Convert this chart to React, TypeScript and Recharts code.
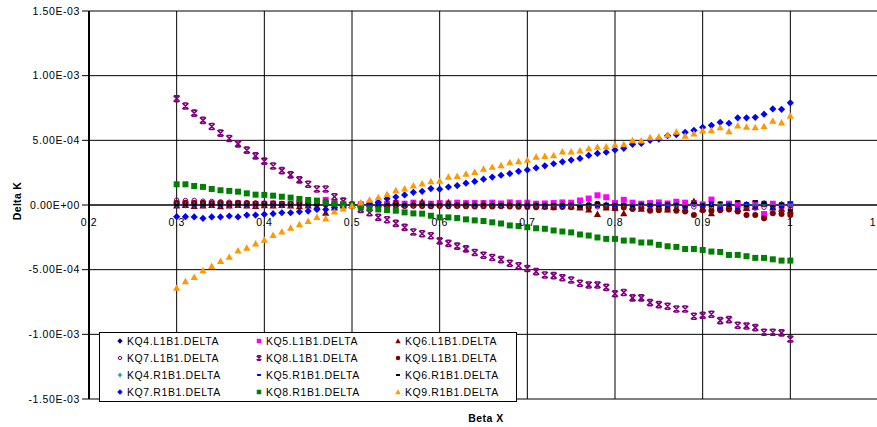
import { ScatterChart, Scatter, XAxis, YAxis, CartesianGrid, ReferenceLine, Legend } from 'recharts'

// Beta X sample points
const betaX = [
  0.3, 0.31, 0.32, 0.33, 0.34, 0.35, 0.36, 0.37, 0.38, 0.39,
  0.4, 0.41, 0.42, 0.43, 0.44, 0.45, 0.46, 0.47, 0.48, 0.49,
  0.5, 0.51, 0.52, 0.53, 0.54, 0.55, 0.56, 0.57, 0.58, 0.59,
  0.6, 0.61, 0.62, 0.63, 0.64, 0.65, 0.66, 0.67, 0.68, 0.69,
  0.7, 0.71, 0.72, 0.73, 0.74, 0.75, 0.76, 0.77, 0.78, 0.79,
  0.8, 0.81, 0.82, 0.83, 0.84, 0.85, 0.86, 0.87, 0.88, 0.89,
  0.9, 0.91, 0.92, 0.93, 0.94, 0.95, 0.96, 0.97, 0.98, 0.99,
  1.0,
]

// Delta K values, in units of 1e-4
const kq4L = [
  0.02, 0.01, 0.03, 0, 0.02, 0.01, 0.03, 0.02, 0, 0.01,
  0.02, 0, 0.01, 0.02, 0, 0.01, 0.03, 0.02, 0, 0.01,
  0, 0.01, -0.02, 0, 0.01, -0.01, 0.02, 0, -0.02, 0.01,
  0, -0.01, 0.02, 0, -0.02, 0.01, 0, -0.01, 0.02, 0,
  -0.02, 0.01, 0, -0.03, 0.02, 0, -0.05, 0.03, 0, -0.02,
  0.03, -0.04, 0.02, 0, -0.05, 0.03, -0.02, 0.05, -0.03, 0.08,
  -0.04, 0.02, -0.06, 0.05, -0.03, 0.04, -0.05, 0.08, -0.02, 0.03,
  -0.04,
]
const kq5L = [
  0.12, 0.1, 0.14, 0.08, 0.12, 0.1, 0.09, 0.13, 0.1, 0.08,
  0.1, 0.12, 0.08, 0.1, 0.14, 0.12, 0.2, 0.4, 0.15, 0.05,
  0, 0.05, 0.1, 0.12, 0.08, 0.15, 0.1, 0.18, 0.12, 0.1,
  0.15, 0.12, 0.18, 0.14, 0.16, 0.15, 0.18, 0.12, 0.2, 0.15,
  0.18, 0.1, 0.12, 0.15, 0.2, 0.18, 0.35, 0.5, 0.75, 0.6,
  0.15, 0.4, 0.18, 0.1, 0.15, 0.2, 0.12, 0.25, 0.18, 0.15,
  0.05, 0.42, -0.15, 0.1, 0.05, -0.2, 0.12, -0.7, 0.1, -0.05,
  0.08,
]
const kq6L = [
  -0.05, 0, -0.08, -0.05, 0, -0.1, -0.05, 0, -0.05, -0.08,
  -0.02, -0.05, 0, -0.05, -0.1, -0.05, -0.1, -0.6, -0.2, -0.05,
  0, 0.05, 0.1, 0.05, 0.08, 0.3, 0.05, 0.1, 0.25, 0.05,
  0.1, 0.2, 0.05, 0.1, 0.05, 0.12, 0.05, 0, 0.08, 0.05,
  0.1, 0.05, -0.1, -0.15, 0.05, -0.1, -0.2, -0.35, -0.7, -0.2,
  -0.25, -0.64, -0.15, -0.3, -0.2, -0.1, -0.35, -0.25, -0.28, 0.3,
  -0.3, -0.64, -0.2, -0.1, -0.3, -0.25, -0.15, 0.08, -0.2, -0.3,
  -0.44,
]
const kq7L = [
  0.38, 0.35, 0.36, 0.3, 0.28, 0.25, 0.22, 0.2, 0.18, 0.15,
  0.14, 0.12, 0.1, 0.1, 0.08, 0.06, 0.05, 0.3, 0.05, 0.02,
  0, -0.02, -0.03, -0.05, -0.04, -0.06, -0.05, -0.07, -0.06, -0.08,
  -0.06, -0.08, -0.07, -0.1, -0.08, -0.09, -0.1, -0.08, -0.1, -0.09,
  -0.1, -0.12, -0.1, -0.15, -0.12, -0.1, -0.2, -0.12, -0.15, -0.1,
  -0.12, -0.15, -0.1, -0.18, -0.12, -0.2, -0.15, -0.12, -0.2, -0.15,
  -0.18, -0.2, -0.15, -0.22, -0.18, -0.2, -0.25, -0.18, -0.2, -0.15,
  -0.22,
]
const kq8L = [
  8.22, 7.65, 7.1, 6.54, 6.07, 5.56, 5.14, 4.73, 4.24, 3.8,
  3.39, 3.02, 2.66, 2.33, 1.94, 1.6, 1.24, 1.24, 0.64, 0.3,
  0, -0.34, -0.6, -0.96, -1.14, -1.42, -1.73, -2.09, -2.22, -2.38,
  -2.77, -2.97, -3.18, -3.39, -3.67, -3.88, -4.06, -4.22, -4.5, -4.7,
  -4.91, -5.15, -5.41, -5.46, -5.62, -5.8, -6.05, -6.18, -6.18, -6.37,
  -6.86, -6.77, -7.18, -7.18, -7.55, -7.7, -7.83, -8.04, -8.04, -8.6,
  -8.53, -8.45, -8.94, -8.86, -9.3, -9.35, -9.48, -9.84, -9.84, -9.89,
  -10.36,
]
const kq9L = [
  0.15, 0.18, 0.15, 0.17, 0.14, 0.16, 0.12, 0.15, 0.13, 0.12,
  0.1, 0.12, 0.1, 0.08, 0.1, 0.07, 0.06, 0.05, 0.03, 0.02,
  0, -0.03, -0.05, -0.04, -0.06, -0.05, -0.08, -0.06, -0.08, -0.1,
  -0.08, -0.1, -0.08, -0.1, -0.12, -0.1, -0.12, -0.1, -0.12, -0.14,
  -0.16, -0.18, -0.15, -0.2, -0.15, -0.18, -0.15, -0.2, 0.1, -0.18,
  -0.26, -0.2, -0.3, -0.25, -0.44, -0.4, -0.35, -0.44, -0.5, -0.77,
  -0.4, -0.45, -0.4, -0.35, -0.5, -0.77, -0.77, -1.03, -0.64, -0.7,
  -0.77,
]
const kq4R = [
  0, 0.02, -0.01, 0.01, 0, 0.02, -0.01, 0, 0.01, 0,
  0.01, 0, -0.01, 0.02, 0, 0.01, -0.01, 0, 0.02, 0,
  0, -0.02, 0, 0.01, -0.01, 0.02, 0, -0.01, 0.01, 0,
  0.01, 0, -0.02, 0.01, 0, -0.01, 0.02, 0, -0.01, 0.01,
  0, 0.02, -0.02, 0.03, 0, -0.03, 0.02, 0.04, -0.02, 0.03,
  0, 0.05, -0.03, 0.04, 0.02, -0.04, 0.06, 0.03, -0.05, 0.1,
  0.02, -0.05, 0.06, 0.03, -0.04, 0.08, 0.02, 0.06, -0.03, 0.05,
  0.08,
]
const kq5R = [
  -0.02, 0, -0.03, -0.01, 0, -0.02, -0.01, 0, -0.03, -0.01,
  0, -0.02, -0.01, 0, -0.02, -0.03, 0, -0.01, -0.02, 0,
  0, 0.02, 0, -0.02, 0.01, 0, -0.03, 0.02, 0, -0.02,
  0.02, -0.03, 0, 0.03, -0.02, 0, 0.04, -0.03, 0.02, 0,
  -0.05, 0.03, -0.04, 0.05, -0.08, 0.04, -0.1, 0.06, -0.12, 0.08,
  -0.1, 0.05, -0.12, 0.1, -0.08, 0.12, -0.15, 0.1, -0.2, 0.15,
  -0.12, 0.2, -0.25, 0.1, -0.3, 0.15, -0.2, 0.25, -0.3, -0.15,
  0.2,
]
const kq6R = [
  0, 0.02, 0.01, 0, 0.02, 0.01, 0, 0.03, 0.01, 0.02,
  0.03, 0.01, 0.02, 0, 0.02, 0.03, 0.01, 0, 0.02, 0.01,
  0, 0.03, 0.05, 0.02, 0.04, 0.06, 0.03, 0.05, 0.04, 0.02,
  0.05, 0.03, 0.06, 0.04, 0.02, 0.05, 0.03, 0.06, 0.04, 0.05,
  0.03, 0.06, 0.04, 0.08, 0.05, 0.1, -0.1, 0.08, 0.15, 0.1,
  0.08, 0.05, -0.05, 0.1, 0.08, -0.08, 0.12, 0.06, -0.1, 0.15,
  0.05, -0.1, 0.2, -0.05, 0.3, -0.08, 0.3, 0.15, -0.1, 0.12,
  -0.4,
]
const kq7R = [
  -0.9, -0.9, -0.92, -1.03, -0.92, -0.92, -0.85, -0.92, -0.78, -0.78,
  -0.72, -0.67, -0.6, -0.6, -0.52, -0.47, -0.34, -0.34, -0.21, -0.13,
  -0.03, 0, 0.08, 0.2, 0.49, 0.62, 0.78, 0.98, 1.06, 1.27,
  1.22, 1.39, 1.5, 1.69, 1.82, 2.0, 2.16, 2.3, 2.43, 2.6,
  2.71, 2.87, 3.03, 3.19, 3.34, 3.47, 3.6, 3.83, 3.99, 4.08,
  4.26, 4.38, 4.69, 4.76, 5.0, 5.1, 5.36, 5.44, 5.62, 5.77,
  6.01, 6.16, 6.39, 6.32, 6.74, 6.74, 6.78, 7.02, 7.43, 7.4,
  7.9,
]
const kq8R = [
  1.6, 1.6, 1.47, 1.4, 1.24, 1.14, 1.09, 1.03, 0.9, 0.8,
  0.78, 0.72, 0.64, 0.57, 0.47, 0.39, 0.34, 0.18, 0.1, 0.06,
  -0.02, -0.18, -0.26, -0.34, -0.39, -0.44, -0.57, -0.65, -0.67, -0.83,
  -0.96, -0.96, -1.01, -1.11, -1.19, -1.24, -1.34, -1.43, -1.58, -1.63,
  -1.72, -1.8, -1.84, -1.97, -2.05, -2.12, -2.28, -2.36, -2.51, -2.62,
  -2.62, -2.75, -2.75, -2.9, -2.9, -3.08, -3.19, -3.24, -3.4, -3.4,
  -3.48, -3.6, -3.63, -3.86, -3.86, -3.96, -4.09, -4.09, -4.2, -4.3,
  -4.3,
]
const kq9R = [
  -6.4, -5.9, -5.57, -5.05, -4.72, -4.33, -4.02, -3.53, -3.32, -2.98,
  -2.7, -2.33, -2.05, -1.76, -1.5, -1.24, -0.93, -1.06, -0.52, -0.28,
  -0.06, 0.18, 0.39, 0.6, 0.85, 1.14, 1.27, 1.5, 1.66, 1.82,
  1.87, 2.17, 2.24, 2.4, 2.55, 2.8, 2.94, 3.06, 3.3, 3.38,
  3.48, 3.72, 3.78, 3.83, 4.12, 4.12, 4.2, 4.37, 4.5, 4.52,
  4.65, 4.68, 5.0, 4.97, 5.23, 5.26, 5.42, 5.65, 5.34, 5.52,
  5.75, 5.77, 6.01, 5.7, 6.14, 6.04, 6.01, 6.09, 6.5, 6.37,
  6.89,
]

const xTicks = [0.2, 0.3, 0.4, 0.5, 0.6, 0.7, 0.8, 0.9, 1.0, 1.1]
const xTickLabels = ['0.2', '0.3', '0.4', '0.5', '0.6', '0.7', '0.8', '0.9', '1', '1.1']
const yTicks = [-15, -10, -5, 0, 5, 10, 15]
const yTickLabels = ['-1.50E-03', '-1.00E-03', '-5.00E-04', '0.00E+00', '5.00E-04', '1.00E-03', '1.50E-03']

type Kind = 'diamond' | 'square' | 'triangle' | 'ring' | 'star' | 'circle' | 'plus' | 'dash'

const series: { name: string; values: number[]; color: string; kind: Kind }[] = [
  { name: 'KQ4.L1B1.DELTA', values: kq4L, color: '#000080', kind: 'diamond' },
  { name: 'KQ5.L1B1.DELTA', values: kq5L, color: '#FF00FF', kind: 'square' },
  { name: 'KQ6.L1B1.DELTA', values: kq6L, color: '#800000', kind: 'triangle' },
  { name: 'KQ7.L1B1.DELTA', values: kq7L, color: '#800080', kind: 'ring' },
  { name: 'KQ8.L1B1.DELTA', values: kq8L, color: '#800080', kind: 'star' },
  { name: 'KQ9.L1B1.DELTA', values: kq9L, color: '#800000', kind: 'circle' },
  { name: 'KQ4.R1B1.DELTA', values: kq4R, color: '#008080', kind: 'plus' },
  { name: 'KQ5.R1B1.DELTA', values: kq5R, color: '#0000FF', kind: 'dash' },
  { name: 'KQ6.R1B1.DELTA', values: kq6R, color: '#000000', kind: 'dash' },
  { name: 'KQ7.R1B1.DELTA', values: kq7R, color: '#0000FF', kind: 'diamond' },
  { name: 'KQ8.R1B1.DELTA', values: kq8R, color: '#008000', kind: 'square' },
  { name: 'KQ9.R1B1.DELTA', values: kq9R, color: '#FF9900', kind: 'triangle' },
]

const FONT = '"Liberation Sans", Arial, sans-serif'
const ZERO_Y = 205

function Marker({ kind, cx, cy, color, k = 1 }: { kind: Kind; cx: number; cy: number; color: string; k?: number }) {
  switch (kind) {
    case 'diamond': {
      const s = 3.6 * k
      return <polygon points={`${cx},${cy - s} ${cx + s},${cy} ${cx},${cy + s} ${cx - s},${cy}`} fill={color} />
    }
    case 'square': {
      const s = 3 * k
      return <rect x={cx - s} y={cy - s} width={2 * s} height={2 * s} fill={color} />
    }
    case 'triangle': {
      const s = 3.6 * k
      return <polygon points={`${cx},${cy - s} ${cx + s},${cy + s * 0.8} ${cx - s},${cy + s * 0.8}`} fill={color} />
    }
    case 'ring':
      return <circle cx={cx} cy={cy} r={2.2 * k} fill="none" stroke={color} strokeWidth={1} />
    case 'circle':
      return <circle cx={cx} cy={cy} r={3 * k} fill={color} />
    case 'star': {
      const s = 3 * k
      return (
        <path
          d={`M${cx - s},${cy - s}L${cx + s},${cy + s}M${cx - s},${cy + s}L${cx + s},${cy - s}M${cx - s * 0.7},${cy - s}H${cx + s * 0.7}M${cx - s * 0.7},${cy + s}H${cx + s * 0.7}`}
          stroke={color}
          strokeWidth={1.6}
          fill="none"
        />
      )
    }
    case 'plus': {
      const s = 3 * k
      return <path d={`M${cx - s},${cy}H${cx + s}M${cx},${cy - s}V${cy + s}`} stroke={color} strokeWidth={1.2} fill="none" />
    }
    case 'dash': {
      const s = 2.6 * k
      return <path d={`M${cx - s},${cy}H${cx + s}`} stroke={color} strokeWidth={2} fill="none" />
    }
  }
}

function XTick(props: { x: number; payload: { value: number } }) {
  const i = xTicks.indexOf(props.payload.value)
  return (
    <text x={props.x} y={ZERO_Y + 21} textAnchor="middle" fill="#000" fontSize={10.5} letterSpacing={0.6} fontFamily={FONT}>
      {xTickLabels[i]}
    </text>
  )
}

function LegendBox() {
  return (
    <div
      style={{
        position: 'relative',
        width: 418,
        height: 70,
        boxSizing: 'border-box',
        border: '1px solid #000',
        background: '#fff',
        fontFamily: FONT,
        fontSize: 10.5,
        letterSpacing: 0.6,
        color: '#000',
      }}
    >
      {series.map((s, i) => (
        <div
          key={s.name}
          style={{
            position: 'absolute',
            left: 14 + (i % 3) * 139,
            top: 1 + Math.floor(i / 3) * 17,
            height: 14,
            display: 'flex',
            alignItems: 'center',
            whiteSpace: 'nowrap',
          }}
        >
          <svg width={12} height={12} style={{ display: 'block' }}>
            <Marker kind={s.kind} cx={6} cy={6} color={s.color} k={0.75} />
          </svg>
          <span style={{ marginLeft: 1 }}>{s.name}</span>
        </div>
      ))}
    </div>
  )
}

export default function App() {
  return (
    <div style={{ position: 'absolute', left: 0, top: 0, width: 877, height: 427, overflow: 'hidden', background: '#fff', fontFamily: FONT }}>
      <ScatterChart width={900} height={427} margin={{ top: 11, right: 22, bottom: 0, left: 0 }}>
        <CartesianGrid stroke="#000" strokeWidth={1} vertical horizontal fill="#fff" />
        <XAxis
          type="number"
          dataKey="x"
          domain={[0.2, 1.1]}
          ticks={xTicks}
          allowDataOverflow
          axisLine={false}
          tickLine={false}
          height={28}
          tick={XTick as any}
          interval={0}
          label={() => (
            <text x={486} y={422} textAnchor="middle" fontWeight="bold" fontSize={10.5} letterSpacing={0.5} fill="#000" fontFamily={FONT}>
              Beta X
            </text>
          )}
        />
        <YAxis
          type="number"
          dataKey="y"
          domain={[-15, 15]}
          ticks={yTicks}
          width={89}
          interval={0}
          tickFormatter={(v: number) => yTickLabels[yTicks.indexOf(v)]}
          tick={{ fill: '#000', fontSize: 10.5, letterSpacing: 0.6, fontFamily: FONT }}
          tickSize={7}
          tickMargin={2}
          tickLine={{ stroke: '#000' }}
          axisLine={{ stroke: '#000', strokeWidth: 2 }}
          label={() => (
            <text x={17} y={201} transform="rotate(-90 17 201)" textAnchor="middle" dy="0.35em" fontWeight="bold" fontSize={10.5} letterSpacing={0.3} fill="#000" fontFamily={FONT}>
              Delta K
            </text>
          )}
        />
        <ReferenceLine y={0} stroke="#000" strokeWidth={1} />
        {series.map((s) => (
          <Scatter
            key={s.name}
            name={s.name}
            data={betaX.map((x, i) => ({ x, y: s.values[i] }))}
            isAnimationActive={false}
            shape={(p: any) => <Marker kind={s.kind} cx={p.cx} cy={p.cy} color={s.color} />}
          />
        ))}
        <Legend
          layout="horizontal"
          verticalAlign="middle"
          align="center"
          content={() => <LegendBox />}
          wrapperStyle={{ left: 99, top: 332, width: 418, height: 70 }}
        />
      </ScatterChart>
    </div>
  )
}
